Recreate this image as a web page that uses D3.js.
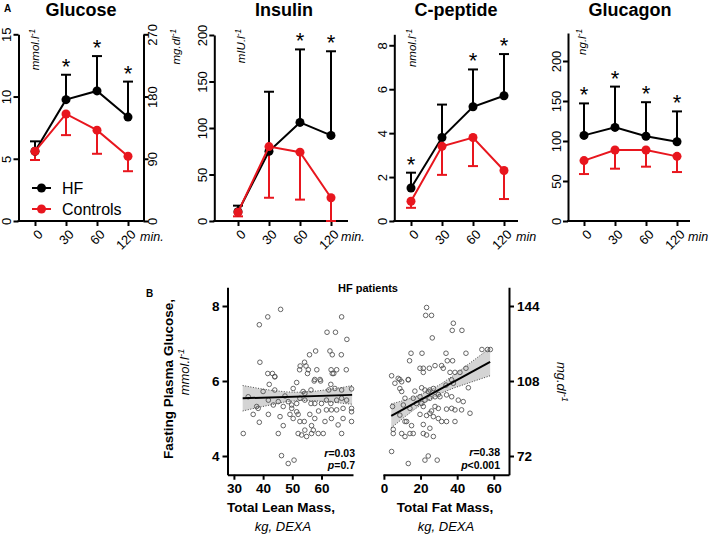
<!DOCTYPE html>
<html><head><meta charset="utf-8">
<script src="https://cdn.jsdelivr.net/npm/d3@7"></script>
<style>body{margin:0;background:#fff}svg{display:block}</style>
</head><body>
<script>
// ---------- DATA ----------
const times = ["0", "30", "60", "120"];

const glucoseHF = [5.6, 9.75, 10.45, 8.35];
const glucoseHFErr = [6.4, 11.75, 13.25, 11.2];
const glucoseCtrl = [5.6, 8.6, 7.3, 5.2];
const glucoseCtrlErr = [4.9, 6.9, 5.4, 4.0];
const glucoseStars = [false, true, true, true];
const glucoseTicks = [0, 5, 10, 15];
const glucoseMgTicks = [0, 90, 180, 270];

const insulinHF = [10, 75, 106, 92];
const insulinHFErr = [16.5, 139, 184.5, 182.5];
const insulinCtrl = [9.5, 80, 74, 25];
const insulinCtrlErr = [5, 25, 23, 0];
const insulinStars = [false, false, true, true];
const insulinTicks = [0, 50, 100, 150, 200];

const cpepHF = [1.5, 3.8, 5.2, 5.7];
const cpepHFErr = [2.2, 5.3, 6.9, 7.6];
const cpepCtrl = [0.9, 3.4, 3.8, 2.3];
const cpepCtrlErr = [0.6, 2.1, 2.5, 1.0];
const cpepStars = [true, false, true, true];
const cpepTicks = [0, 2, 4, 6, 8];

const glucagonHF = [107, 117, 106, 99];
const glucagonHFErr = [147, 168, 148.5, 137];
const glucagonCtrl = [75.5, 88.7, 88.7, 80.8];
const glucagonCtrlErr = [58.7, 65.4, 67.9, 61.2];
const glucagonStars = [true, true, true, true];
const glucagonTicks = [0, 50, 100, 150, 200];

const seriesNames = ["HF", "Controls"];

// Panel B: fasting plasma glucose (mmol/l) vs lean / fat mass (kg)
const leanPoints = [
 [46.0,7.91],[41.6,7.71],[38.7,7.50],[66.9,7.71],[61.9,7.30],[64.8,7.30],[68.7,7.11],
 [58.0,6.80],[62.9,6.80],[55.9,6.70],[63.7,6.70],[66.8,6.70],[38.9,6.50],[54.2,6.50],
 [52.7,6.40],[54.7,6.40],[52.5,6.30],[55.5,6.30],[58.4,6.30],[63.3,6.30],[65.2,6.30],
 [68.5,6.30],[41.6,6.20],[43.2,6.20],[44.0,6.11],[55.2,6.20],[63.7,6.20],[64.2,6.20],
 [57.7,6.04],[59.5,6.04],[44.0,6.12],[57.5,6.00],[59.7,6.00],[63.2,5.91],[42.1,5.91],
 [51.5,5.96],[40.0,5.72],[44.0,5.76],[50.3,5.80],[53.7,5.72],[54.3,5.67],[56.4,5.76],
 [62.5,5.76],[64.6,5.80],[66.9,5.76],[70.3,5.79],[34.9,5.58],[37.8,5.32],[41.8,5.49],
 [45.2,5.45],[48.6,5.45],[49.8,5.36],[51.5,5.40],[52.6,5.54],[54.3,5.49],[56.4,5.40],
 [57.7,5.40],[60.0,5.40],[61.7,5.49],[63.2,5.40],[65.2,5.49],[66.9,5.54],[68.6,5.49],
 [70.3,5.27],[70.3,5.18],[61.7,5.23],[63.4,5.23],[65.2,5.23],[67.4,5.27],[49.8,5.27],
 [51.5,5.18],[46.9,5.32],[43.5,5.36],[38.3,5.27],[36.6,5.11],[38.7,4.90],[41.8,5.11],
 [46.9,4.81],[49.2,5.11],[50.3,5.00],[52.0,5.11],[52.6,4.92],[54.1,4.92],[56.0,5.11],
 [56.6,4.81],[57.7,5.00],[54.3,4.69],[53.2,4.56],[54.9,4.52],[56.6,4.60],[57.2,4.69],
 [58.9,4.60],[60.6,4.60],[61.2,4.92],[63.4,5.00],[65.7,4.83],[67.4,5.00],[70.3,4.92],
 [33.2,4.60],[45.2,4.60],[52.0,4.60],[66.9,4.60],[46.3,4.01],[48.6,3.80],[50.6,3.89],
 [47.5,5.60],[45.8,5.05],[59.0,5.20]
];
const fatPoints = [
 [23.3,7.96],[22.8,7.75],[26.0,7.75],[37.9,7.54],[37.3,7.35],[42.6,7.35],[26.4,7.15],
 [14.8,6.74],[20.8,6.74],[33.9,6.74],[44.8,6.74],[53.5,6.84],[56.6,6.84],[58.1,6.84],
 [14.0,6.54],[19.7,6.34],[21.5,6.34],[24.8,6.34],[27.9,6.41],[31.5,6.41],[32.4,6.34],
 [34.6,6.54],[37.5,6.54],[36.1,6.23],[38.8,6.23],[41.5,6.23],[44.8,6.34],[21.5,6.23],
 [4.2,6.14],[8.7,6.04],[13.3,6.04],
 [7.8,6.07],[9.7,5.98],[13.3,6.03],[6.0,5.94],[8.7,5.80],[9.7,5.72],[16.9,5.73],
 [20.6,5.82],[22.4,5.76],[24.2,5.72],[25.1,5.76],[27.0,5.80],[29.7,5.64],[33.9,5.89],
 [37.0,6.03],[37.9,5.94],[46.1,5.82],[11.5,5.54],[16.0,5.54],[19.7,5.58],[22.4,5.49],
 [25.1,5.54],[27.9,5.58],[30.6,5.58],[34.2,5.63],[37.0,5.58],[40.6,5.49],[43.3,5.45],
 [4.7,5.32],[10.6,5.36],[14.2,5.27],[17.8,5.40],[20.6,5.40],[21.5,5.32],[27.9,5.32],
 [29.7,5.27],[26.0,5.20],[34.2,5.25],[37.0,5.27],[38.8,5.23],[42.4,5.23],[47.0,5.14],
 [8.7,5.09],[19.7,5.11],[23.3,5.08],[25.1,5.14],[27.0,5.05],[29.7,5.00],[31.5,4.92],
 [34.2,4.92],[38.8,4.92],[11.5,4.92],[12.4,4.92],[15.1,4.81],[21.5,4.84],[25.1,4.74],
 [5.1,4.71],[5.1,4.60],[9.7,4.60],[11.5,4.52],[14.2,4.60],[16.0,4.60],[21.5,4.60],
 [23.3,4.56],[27.0,4.52],[4.2,4.12],[13.3,3.80],[22.4,3.89],[24.2,4.00],[29.1,3.89]
];
const leanFitX = [33, 70.5];
const leanFitY = [5.54, 5.63];
const leanBandX = [33, 38, 43, 48, 53, 58, 63, 68, 70.5];
const leanBandHi = [5.88, 5.81, 5.75, 5.71, 5.70, 5.73, 5.78, 5.84, 5.88];
const leanBandLo = [5.20, 5.29, 5.37, 5.45, 5.48, 5.47, 5.44, 5.40, 5.38];
const fatFitX = [4, 58];
const fatFitY = [5.07, 6.51];
const fatBandX = [4, 10, 16, 22, 27, 32, 38, 44, 50, 58];
const fatBandHi = [5.39, 5.47, 5.56, 5.68, 5.80, 5.95, 6.15, 6.37, 6.59, 6.88];
const fatBandLo = [4.75, 4.99, 5.22, 5.42, 5.56, 5.69, 5.81, 5.91, 6.01, 6.14];
const bYTicks = [4, 6, 8];
const bYMgTicks = [72, 108, 144];
const leanTicks = [30, 40, 50, 60];
const fatTicks = [0, 20, 40, 60];

// ---------- DRAW ----------
const FONT = '"Liberation Sans", Arial, Helvetica, sans-serif';
const RED = "#e8161e";
const svg = d3.select("body").append("svg").attr("width", 709).attr("height", 535)
  .style("font-family", FONT);

function styleAxis(a, fs) {
  a.attr("font-family", FONT).attr("font-size", fs);
  a.selectAll("path, line").attr("stroke", "#000").attr("stroke-width", 2);
  a.selectAll("text").attr("fill", "#000");
}
function supText(t, base, sup) {
  t.append("tspan").text(base);
  t.append("tspan").attr("dy", "-0.45em").attr("font-size", "0.72em").text(sup);
}

const BASE = 221;
const panels = [
  {title:"Glucose", ax:18.5, x0:35, x1:128, axEnd:143.5, ymax:15, ytop:34.3, ticks:glucoseTicks,
   titleX:81, unit:"mmol.l", unitX:35, minLabel:"min.", minX:140,
   hf:glucoseHF, hfErr:glucoseHFErr, ct:glucoseCtrl, ctErr:glucoseCtrlErr, stars:glucoseStars},
  {title:"Insulin", ax:214.3, x0:238, x1:331, axEnd:348, ymax:200, ytop:35, ticks:insulinTicks,
   titleX:284, unit:"mIU.l", unitX:241, minLabel:"min.", minX:341,
   hf:insulinHF, hfErr:insulinHFErr, ct:insulinCtrl, ctErr:insulinCtrlErr, stars:insulinStars},
  {title:"C-peptide", ax:394.3, x0:411, x1:504, axEnd:518, ymax:8.5, ytop:34.3, ticks:cpepTicks,
   titleX:456, unit:"nmol.l", unitX:412, minLabel:"min", minX:516,
   hf:cpepHF, hfErr:cpepHFErr, ct:cpepCtrl, ctErr:cpepCtrlErr, stars:cpepStars},
  {title:"Glucagon", ax:568, x0:584, x1:677, axEnd:690, ymax:235, ytop:33, ticks:glucagonTicks,
   titleX:630, unit:"ng.l", unitX:582, minLabel:"min", minX:688,
   hf:glucagonHF, hfErr:glucagonHFErr, ct:glucagonCtrl, ctErr:glucagonCtrlErr, stars:glucagonStars}
];

panels.forEach((p, pi) => {
  const g = svg.append("g");
  const x = d3.scalePoint().domain(times).range([p.x0, p.x1]);
  const y = d3.scaleLinear().domain([0, p.ymax]).range([BASE, p.ytop]);

  const ya = g.append("g").attr("transform", `translate(${p.ax},0)`)
    .call(d3.axisLeft(y).tickValues(p.ticks).tickSize(5).tickSizeOuter(0));
  styleAxis(ya, 13);
  ya.selectAll(".tick text").attr("transform", "rotate(-90)").attr("x", 0).attr("y", -7.5)
    .attr("dy", 0).attr("text-anchor", "middle");

  const xa = g.append("g").attr("transform", `translate(0,${BASE})`)
    .call(d3.axisBottom(x).tickSize(5).tickSizeOuter(0));
  xa.select(".domain").remove();
  xa.append("line").attr("x1", p.ax - 1).attr("x2", p.axEnd).attr("y1", 0).attr("y2", 0);
  styleAxis(xa, 13);
  xa.selectAll(".tick text").attr("text-anchor", "end").attr("x", 0).attr("y", 0)
    .attr("dy", "0.35em").attr("transform", "translate(5,11) rotate(-45)");

  g.append("text").attr("x", p.minX).attr("y", 241).attr("font-size", 12.5)
    .attr("font-style", "italic").text(p.minLabel);

  g.append("text").attr("x", p.titleX).attr("y", 16).attr("text-anchor", "middle")
    .attr("font-size", 18).attr("font-weight", "bold").text(p.title);

  const ut = g.append("text").attr("transform", `translate(${p.unitX},29) rotate(-90)`)
    .attr("text-anchor", "end").attr("dy", "0.35em").attr("font-size", 11.5).attr("font-style", "italic");
  supText(ut, p.unit, "-1");

  const line = d3.line().x((d, i) => x(times[i])).y(d => y(d));
  // error bars
  [[p.hf, p.hfErr, "#000"], [p.ct, p.ctErr, RED]].forEach(([vals, errs, col]) => {
    const eg = g.append("g").attr("stroke", col).attr("stroke-width", 2);
    vals.forEach((v, i) => {
      const cx = x(times[i]);
      eg.append("line").attr("x1", cx).attr("x2", cx).attr("y1", y(v)).attr("y2", y(errs[i]));
      eg.append("line").attr("x1", cx - 5).attr("x2", cx + 5).attr("y1", y(errs[i])).attr("y2", y(errs[i]));
    });
  });
  [[p.hf, "#000"], [p.ct, RED]].forEach(([vals, col]) => {
    g.append("path").attr("d", line(vals)).attr("fill", "none").attr("stroke", col).attr("stroke-width", 2);
    g.selectAll(null).data(vals).enter().append("circle")
      .attr("cx", (d, i) => x(times[i])).attr("cy", d => y(d)).attr("r", 4.5).attr("fill", col);
  });
  p.stars.forEach((s, i) => {
    if (!s) return;
    g.append("text").attr("x", x(times[i])).attr("y", y(p.hfErr[i]) - 1).attr("text-anchor", "middle")
      .attr("font-size", 22).text("*");
  });

  if (pi === 0) {
    const y2 = d3.scaleLinear().domain([0, 270]).range([BASE, p.ytop]);
    const ra = g.append("g").attr("transform", `translate(${p.axEnd},0)`)
      .call(d3.axisRight(y2).tickValues(glucoseMgTicks).tickSize(5).tickSizeOuter(0));
    styleAxis(ra, 13);
    ra.selectAll(".tick text").attr("transform", "rotate(-90)").attr("x", 0).attr("y", 13)
      .attr("dy", 0).attr("text-anchor", "middle");
    const mt = g.append("text").attr("transform", `translate(176,29) rotate(-90)`)
      .attr("text-anchor", "end").attr("dy", "0.35em").attr("font-size", 11.5).attr("font-style", "italic");
    supText(mt, "mg.dl", "-1");
    // legend
    [[seriesNames[0], "#000", 188], [seriesNames[1], RED, 209]].forEach(([nm, col, ly]) => {
      g.append("line").attr("x1", 32).attr("x2", 51).attr("y1", ly).attr("y2", ly)
        .attr("stroke", col).attr("stroke-width", 2);
      g.append("circle").attr("cx", 41.5).attr("cy", ly).attr("r", 4.5).attr("fill", col);
      g.append("text").attr("x", 62).attr("y", ly).attr("dy", "0.36em").attr("font-size", 16).text(nm);
    });
  }
});

svg.append("text").attr("x", 4).attr("y", 12).attr("font-size", 10).attr("font-weight", "bold").text("A");
svg.append("text").attr("x", 146).attr("y", 297).attr("font-size", 10).attr("font-weight", "bold").text("B");

// ---------- PANEL B ----------
const BB = 474.75;
const yB = d3.scaleLinear().domain([3.5, 8.5]).range([BB, 287.25]);
const yBmg = d3.scaleLinear().domain([63, 153]).range([BB, 287.25]);
const xLean = d3.scaleLinear().domain([27.8, 70.8]).range([227.5, 353]);
const xFat = d3.scaleLinear().domain([-0.5, 68.3]).range([383, 509]);

function scatter(xs, pts, bandX, bandHi, bandLo, fitX, fitY) {
  const g = svg.append("g");
  const area = d3.area().x((d, i) => xs(bandX[i])).y0((d, i) => yB(bandLo[i])).y1((d, i) => yB(bandHi[i]));
  g.append("path").attr("d", area(bandX)).attr("fill", "#d4d4d4");
  const ln = (arr) => d3.line().x((d, i) => xs(bandX[i])).y(d => yB(d))(arr);
  [bandHi, bandLo].forEach(a => g.append("path").attr("d", ln(a)).attr("fill", "none")
    .attr("stroke", "#333").attr("stroke-width", 0.9).attr("stroke-dasharray", "1,1.6"));
  g.selectAll(null).data(pts).enter().append("circle")
    .attr("cx", d => xs(d[0])).attr("cy", d => yB(d[1])).attr("r", 2.3)
    .attr("fill", "none").attr("stroke", "#555").attr("stroke-width", 0.9);
  g.append("line").attr("x1", xs(fitX[0])).attr("x2", xs(fitX[1]))
    .attr("y1", yB(fitY[0])).attr("y2", yB(fitY[1])).attr("stroke", "#000").attr("stroke-width", 2);
}
scatter(xLean, leanPoints, leanBandX, leanBandHi, leanBandLo, leanFitX, leanFitY);
scatter(xFat, fatPoints, fatBandX, fatBandHi, fatBandLo, fatFitX, fatFitY);

const lyA = svg.append("g").attr("transform", "translate(227.5,0)")
  .call(d3.axisLeft(yB).tickValues(bYTicks).tickFormat(d3.format("d")).tickSize(5).tickSizeOuter(0));
styleAxis(lyA, 13.5); lyA.selectAll("text").attr("font-weight", "bold");
const lxA = svg.append("g").attr("transform", `translate(0,${BB})`)
  .call(d3.axisBottom(xLean).tickValues(leanTicks).tickFormat(d3.format("d")).tickSize(5).tickSizeOuter(0));
styleAxis(lxA, 13.5); lxA.selectAll("text").attr("font-weight", "bold").attr("y", 9);
const fxA = svg.append("g").attr("transform", `translate(0,${BB})`)
  .call(d3.axisBottom(xFat).tickValues(fatTicks).tickFormat(d3.format("d")).tickSize(5).tickSizeOuter(0));
styleAxis(fxA, 13.5); fxA.selectAll("text").attr("font-weight", "bold").attr("y", 9);
const ryA = svg.append("g").attr("transform", "translate(509,0)")
  .call(d3.axisRight(yBmg).tickValues(bYMgTicks).tickFormat(d3.format("d")).tickSize(5).tickSizeOuter(0));
styleAxis(ryA, 13.5); ryA.selectAll("text").attr("font-weight", "bold");

svg.append("text").attr("x", 368).attr("y", 292).attr("text-anchor", "middle")
  .attr("font-size", 11).attr("font-weight", "bold").text("HF patients");

svg.append("text").attr("transform", "translate(168,379) rotate(-90)").attr("text-anchor", "middle")
  .attr("dy", "0.35em").attr("font-size", 13.5).attr("font-weight", "bold").text("Fasting Plasma Glucose,");
const mm = svg.append("text").attr("transform", "translate(184,372) rotate(-90)").attr("text-anchor", "middle")
  .attr("dy", "0.35em").attr("font-size", 13).attr("font-style", "italic");
supText(mm, "mmol.l", "-1");
const mg = svg.append("text").attr("transform", "translate(562,382) rotate(90)").attr("text-anchor", "middle")
  .attr("dy", "0.35em").attr("font-size", 13).attr("font-style", "italic");
supText(mg, "mg.dl", "-1");

svg.append("text").attr("x", 281).attr("y", 512).attr("text-anchor", "middle")
  .attr("font-size", 13.5).attr("font-weight", "bold").text("Total Lean Mass,");
svg.append("text").attr("x", 283).attr("y", 531).attr("text-anchor", "middle")
  .attr("font-size", 13).attr("font-style", "italic").text("kg, DEXA");
svg.append("text").attr("x", 445).attr("y", 512).attr("text-anchor", "middle")
  .attr("font-size", 13.5).attr("font-weight", "bold").text("Total Fat Mass,");
svg.append("text").attr("x", 446).attr("y", 531).attr("text-anchor", "middle")
  .attr("font-size", 13).attr("font-style", "italic").text("kg, DEXA");

function stat(x, y, a, b) {
  const t = svg.append("text").attr("x", x).attr("y", y).attr("text-anchor", "end")
    .attr("font-size", 10.5).attr("font-weight", "bold");
  t.append("tspan").attr("font-style", "italic").text(a);
  t.append("tspan").text(b);
}
stat(355, 457, "r", "=0.03");
stat(355, 469, "p", "=0.7");
stat(500, 456, "r", "=0.38");
stat(500, 469, "p", "<0.001");
</script>
</body></html>
